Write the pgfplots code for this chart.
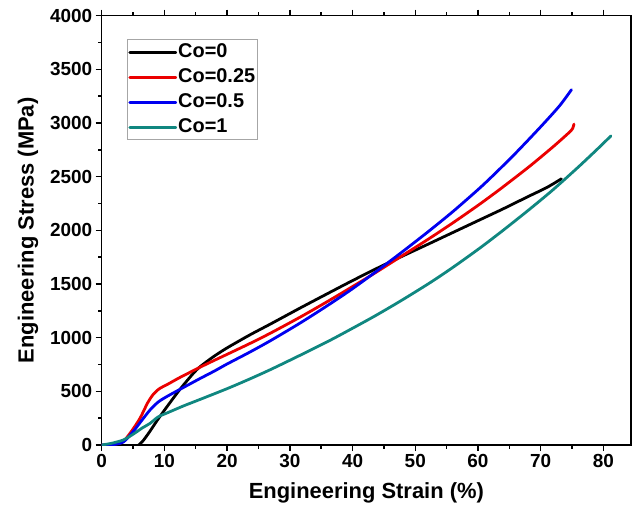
\documentclass[border=0pt]{standalone}
\usepackage{fontspec}
\setmainfont{Liberation Sans}
\usepackage{pgfplots}
\pgfplotsset{compat=1.18}
\definecolor{cteal}{RGB}{16,135,128}
\definecolor{cred}{RGB}{235,0,0}
\definecolor{cblue}{RGB}{0,0,240}
\begin{document}
\begin{tikzpicture}
\begin{axis}[
  scale only axis,
  width=529.3bp, height=429.3bp,
  xmin=0, xmax=84.4, ymin=0, ymax=4000,
  xtick={0,10,...,80}, ytick={0,500,...,4000},
  minor xtick={5,15,...,75},
  minor ytick={250,750,...,3750},
  xtick pos=both, ytick pos=left,
  tick align=outside,
  major tick length=6bp, minor tick length=3.5bp,
  every tick/.style={line width=1.4bp, black},
  axis line style={line width=1.5bp},
  /pgf/number format/assume math mode=true,
  /pgf/number format/1000 sep={},
  tick label style={font=\fontsize{19}{19}\selectfont\bfseries},
  xlabel={Engineering Strain (\%)},
  ylabel={Engineering Stress (MPa)},
  label style={font=\fontsize{22}{22}\selectfont\bfseries},
  xlabel style={at={(axis description cs:0.5,-0.112)},anchor=center},
  ylabel style={at={(axis description cs:-0.139,0.5)},anchor=center},
  legend cell align=left,
  legend style={at={(axis description cs:0.048,0.945)},anchor=north west,
    draw=gray!70, line width=0.6bp, inner xsep=1bp, inner ysep=2bp,
    row sep=4bp,
    font=\fontsize{20}{20}\selectfont\bfseries,
    nodes={inner sep=1bp, text height=15bp, text depth=4bp}},
  legend image code/.code={\draw[#1] (0bp,0bp) -- (46bp,0bp);},
  every axis plot/.append style={line width=2.8bp, line cap=round, line join=round, smooth, tension=0.45},
]
\addplot[black] coordinates {(5.9,0)(6.6,40)(7.6,120)(8.8,225)(10.4,356)(12.5,520)(14.6,667)(15.7,730)(17.75,820)(20,905)(23.6,1025)(27,1130)(31.6,1275)(35.5,1395)(39.6,1520)(43.5,1635)(47.6,1750)(52,1870)(56,1980)(60,2090)(64,2200)(68,2315)(71,2400)(73.3,2480)};
\addlegendentry{Co=0}
\addplot[cred] coordinates {(0,0)(2,8)(3.4,31)(4.7,124)(6.1,248)(7.3,390)(8.2,470)(9.2,525)(10.4,562)(12.5,630)(15.7,725)(17.75,783)(20,845)(23.6,945)(27,1045)(31.6,1190)(35.5,1320)(39.6,1462)(43.5,1600)(47.6,1752)(52,1915)(56,2070)(60.3,2245)(64,2405)(68.3,2600)(72,2780)(74.5,2910)(75.1,2950)(75.3,2990)};
\addlegendentry{Co=0.25}
\addplot[cblue] coordinates {(0,0)(2,5)(3.5,30)(5,124)(6.4,230)(7.7,326)(9,400)(10.4,452)(13,535)(15.7,620)(18,690)(20,755)(23.6,865)(27,975)(31.6,1135)(35.5,1280)(39.6,1440)(43.5,1605)(47.6,1785)(52,1985)(56,2175)(60.3,2395)(63,2545)(66.1,2725)(70,2965)(73,3160)(74.9,3310)};
\addlegendentry{Co=0.5}
\addplot[cteal] coordinates {(0,0)(1.5,15)(3.4,46)(5,100)(6.5,160)(7.7,201)(9,262)(10.4,298)(13,363)(15.7,425)(20,525)(23.6,615)(27,705)(31.6,835)(36.4,975)(39.6,1075)(43.5,1200)(47.6,1340)(52.3,1510)(56,1655)(60.3,1835)(64,2000)(68.3,2200)(72,2380)(76,2590)(79,2755)(81.2,2880)};
\addlegendentry{Co=1}
\coordinate (sw) at (rel axis cs:0,0);
\coordinate (ne) at (rel axis cs:1,1);
\end{axis}
\pgfresetboundingbox
\path[use as bounding box] ([xshift=-101.7bp,yshift=-63bp]sw) rectangle ([xshift=8bp,yshift=15.7bp]ne);
\end{tikzpicture}
\end{document}
